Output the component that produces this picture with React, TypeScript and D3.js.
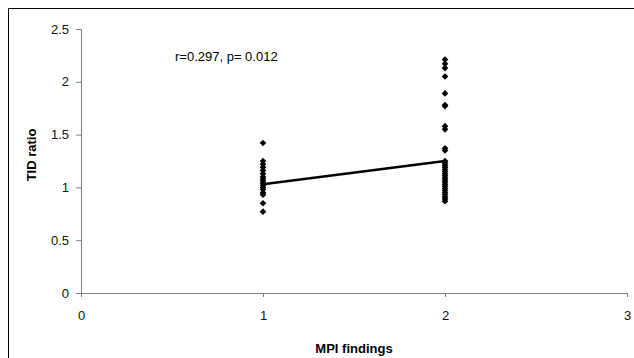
import React, { useEffect, useRef } from 'react';
import * as d3 from 'd3';

// MPI findings groups and the TID ratio readings in each
const group1Values = [1.42, 1.25, 1.22, 1.19, 1.16, 1.13, 1.1, 1.08, 1.06, 1.04, 1.02, 1.0, 0.98, 0.95, 0.93, 0.85, 0.77];
const group2Values = [
    2.21, 2.17, 2.13, 2.05, 1.89, 1.78, 1.77, 1.58, 1.55, 1.37, 1.35,
    1.25, 1.23, 1.21, 1.19, 1.17, 1.15, 1.13, 1.11, 1.09, 1.07, 1.05,
    1.03, 1.01, 0.99, 0.97, 0.95, 0.93, 0.91, 0.89, 0.87
];
const trendX = [1, 2];
const trendY = [1.03, 1.25];
const xTicks = [0, 1, 2, 3];
const yTicks = [0, 0.5, 1, 1.5, 2, 2.5];

const W = 634;
const H = 358;

export default function App() {
    const ref = useRef<SVGSVGElement>(null);

    useEffect(() => {
        if (!ref.current) return;
        const svg = d3.select(ref.current);
        svg.selectAll("*").remove();

        const font = "Arial, 'Liberation Sans', sans-serif";
        const x = d3.scaleLinear().domain([0, 3]).range([81, 627]);
        const y = d3.scaleLinear().domain([0, 2.5]).range([293, 29]);

        // outer frame (only top and left edges fall inside the window)
        svg.append("path")
            .attr("d", `M8.5,${H} V8.5 H${W}`)
            .attr("fill", "none")
            .attr("stroke", "#000")
            .attr("stroke-width", 1);

        // y axis
        const gy = svg.append("g").attr("transform", `translate(${x(0)},0)`);
        gy.call(d3.axisLeft(y).tickValues(yTicks).tickSize(5).tickFormat(d3.format("")) as any);
        gy.select(".domain").attr("stroke", "#808080");
        gy.selectAll(".tick line").attr("stroke", "#808080");
        gy.selectAll("text")
            .attr("x", -12)
            .style("font-family", font)
            .style("font-size", "13px")
            .attr("fill", "#111");

        // x axis
        const gx = svg.append("g").attr("transform", `translate(0,${y(0)})`);
        gx.call(d3.axisBottom(x).tickValues(xTicks).tickSize(4).tickFormat(d3.format("d")) as any);
        gx.select(".domain").attr("stroke", "#808080");
        gx.selectAll(".tick line").attr("stroke", "#808080");
        gx.selectAll("text")
            .attr("y", 18)
            .style("font-family", font)
            .style("font-size", "13px")
            .attr("fill", "#111");

        // axis titles
        svg.append("text")
            .attr("x", (x(0) + x(3)) / 2)
            .attr("y", 353)
            .attr("text-anchor", "middle")
            .style("font-family", font)
            .style("font-size", "13px")
            .style("font-weight", "bold")
            .text("MPI findings");

        svg.append("text")
            .attr("transform", `translate(36,155) rotate(-90)`)
            .attr("text-anchor", "middle")
            .style("font-family", font)
            .style("font-size", "13px")
            .style("font-weight", "bold")
            .text("TID ratio");

        // correlation annotation
        svg.append("text")
            .attr("x", 175)
            .attr("y", 61)
            .style("font-family", font)
            .style("font-size", "13px")
            .text("r=0.297, p= 0.012");

        // points (small square diamonds)
        const marker = d3.symbol().type(d3.symbolSquare).size(22);
        const pts = [
            ...group1Values.map(v => ({ g: 1, v })),
            ...group2Values.map(v => ({ g: 2, v }))
        ];
        svg.append("g")
            .selectAll("path")
            .data(pts)
            .join("path")
            .attr("d", marker as any)
            .attr("transform", d => `translate(${x(d.g)},${y(d.v)}) rotate(45)`)
            .attr("fill", "#000");

        // trend line
        const line = d3.line<number>()
            .x((_, i) => x(trendX[i]))
            .y(d => y(d));
        svg.append("path")
            .attr("d", line(trendY) as string)
            .attr("fill", "none")
            .attr("stroke", "#000")
            .attr("stroke-width", 2.5);
    }, []);

    return (
        <svg
            ref={ref}
            width={W}
            height={H}
            style={{ position: "absolute", left: 0, top: 0, background: "#fff" }}
        />
    );
}
